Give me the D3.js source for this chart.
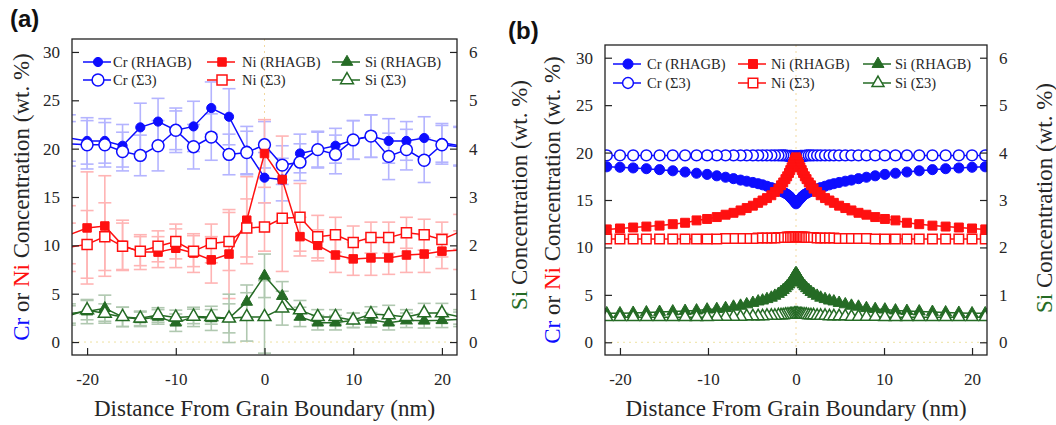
<!DOCTYPE html>
<html>
<head>
<meta charset="utf-8">
<script src="https://cdn.jsdelivr.net/npm/d3@7"></script>
<style>
  body { margin: 0; background: #fff; }
  svg { display: block; }
</style>
</head>
<body>
<svg id="chart" width="1056" height="425"></svg>
<script>
// ---------- Panel (a): measured profiles, points every 2 nm ----------
const distA = [-22, -20, -18, -16, -14, -12, -10, -8, -6, -4, -2, 0, 2, 4, 6, 8, 10, 12, 14, 16, 18, 20, 22];

const crRhagbA    = [21.1, 20.8, 20.8, 20.3, 22.2, 22.8, 21.9, 22.3, 24.2, 23.3, 19.8, 17.0, 16.8, 19.5, 19.9, 20.3, 20.9, 21.3, 20.8, 20.8, 21.1, 20.6, 20.3];
const crRhagbAErr = [2.4, 2.4, 2.3, 2.2, 2.5, 2.4, 2.3, 2.6, 2.7, 2.9, 2.5, 2.6, 2.2, 2.0, 1.8, 1.8, 2.0, 2.2, 2.3, 2.0, 2.2, 2.0, 2.0];
const crS3A       = [20.5, 20.4, 20.4, 19.7, 19.3, 20.3, 21.9, 20.2, 21.2, 19.4, 19.6, 20.4, 18.3, 18.6, 19.9, 19.4, 20.9, 21.3, 19.2, 19.9, 18.8, 20.4, 20.2];
const crS3AErr    = [2.3, 2.5, 2.3, 2.0, 2.1, 2.6, 2.0, 2.3, 2.4, 2.1, 2.2, 2.4, 2.0, 1.9, 1.9, 2.0, 2.0, 2.2, 2.4, 2.1, 2.3, 2.0, 2.0];

const niRhagbA    = [11.1, 11.8, 12.0, 10.0, 9.3, 9.3, 9.7, 9.2, 8.5, 9.1, 12.6, 19.5, 16.8, 10.9, 10.0, 9.0, 8.6, 8.7, 8.7, 9.0, 9.1, 9.4, 9.5];
const niRhagbAErr = [3.0, 5.8, 5.2, 2.6, 1.8, 1.6, 2.0, 2.0, 2.4, 4.6, 4.5, 3.5, 4.5, 2.0, 1.6, 1.8, 1.7, 1.8, 1.7, 1.8, 1.9, 1.8, 2.0];
const niS3A       = [9.8, 10.1, 10.9, 9.9, 9.4, 9.9, 10.4, 9.4, 10.2, 10.4, 11.8, 11.9, 12.8, 12.9, 10.9, 11.1, 10.3, 10.8, 10.8, 11.3, 11.1, 10.6, 11.4];
const niS3AErr    = [2.5, 3.5, 3.5, 2.4, 1.5, 1.6, 1.8, 1.6, 2.0, 3.0, 3.0, 2.5, 5.5, 3.5, 2.2, 1.8, 1.7, 1.6, 1.6, 1.6, 1.6, 1.8, 1.8];

const siRhagbA    = [0.59, 0.63, 0.70, 0.52, 0.47, 0.52, 0.40, 0.52, 0.49, 0.49, 0.83, 1.37, 0.95, 0.52, 0.40, 0.40, 0.45, 0.46, 0.40, 0.45, 0.44, 0.45, 0.47];
const siRhagbAErr = [0.20, 0.25, 0.27, 0.20, 0.15, 0.15, 0.18, 0.20, 0.25, 0.50, 0.35, 0.45, 0.30, 0.20, 0.15, 0.15, 0.15, 0.15, 0.15, 0.15, 0.15, 0.15, 0.15];
const siS3A       = [0.55, 0.66, 0.59, 0.52, 0.49, 0.56, 0.51, 0.53, 0.52, 0.49, 0.52, 0.52, 0.70, 0.66, 0.52, 0.52, 0.45, 0.58, 0.56, 0.52, 0.60, 0.60, 0.52];
const siS3AErr    = [0.20, 0.20, 0.20, 0.20, 0.15, 0.15, 0.15, 0.15, 0.15, 0.30, 0.50, 0.75, 0.35, 0.20, 0.15, 0.15, 0.15, 0.15, 0.20, 0.15, 0.20, 0.20, 0.15];

// ---------- Panel (b): simulated profiles, symmetric about the boundary ----------
// distance from the boundary (nm); each value is plotted on both sides
const distB = [0, 0.1, 0.2, 0.35, 0.5, 0.65, 0.8, 1.0, 1.2, 1.45, 1.7, 2.0, 2.4, 2.8, 3.3, 3.8, 4.3, 4.9, 5.6, 6.3, 7.1, 8.0, 9.0, 10.1, 11.3, 12.6, 14.0, 15.5, 17.0, 18.5, 20.0, 21.5];

const crRhagbB = [14.6, 14.75, 14.85, 15.0, 15.15, 15.3, 15.45, 15.6, 15.7, 15.82, 15.93, 16.05, 16.17, 16.3, 16.45, 16.6, 16.72, 16.85, 16.98, 17.1, 17.25, 17.4, 17.55, 17.7, 17.82, 17.95, 18.08, 18.2, 18.3, 18.38, 18.45, 18.5];
const crS3B    = [19.6, 19.6, 19.6, 19.6, 19.65, 19.65, 19.65, 19.65, 19.7, 19.7, 19.7, 19.7, 19.7, 19.7, 19.7, 19.7, 19.7, 19.7, 19.7, 19.7, 19.7, 19.7, 19.7, 19.7, 19.7, 19.7, 19.7, 19.7, 19.7, 19.7, 19.7, 19.7];
const niRhagbB = [19.5, 19.3, 19.05, 18.75, 18.45, 18.15, 17.85, 17.5, 17.2, 16.85, 16.55, 16.2, 15.85, 15.5, 15.2, 14.95, 14.7, 14.4, 14.15, 13.9, 13.65, 13.45, 13.2, 13.0, 12.85, 12.6, 12.45, 12.3, 12.2, 12.1, 12.0, 11.9];
const niS3B    = [11.15, 11.15, 11.15, 11.1, 11.1, 11.1, 11.1, 11.1, 11.05, 11.05, 11.05, 11.05, 11.0, 11.0, 11.0, 11.0, 11.0, 10.95, 10.95, 10.95, 10.95, 10.95, 10.9, 10.9, 10.9, 10.9, 10.9, 10.9, 10.9, 10.9, 10.9, 10.9];
const siRhagbB = [1.46, 1.43, 1.40, 1.35, 1.30, 1.26, 1.22, 1.18, 1.14, 1.10, 1.06, 1.02, 0.98, 0.94, 0.91, 0.88, 0.86, 0.83, 0.80, 0.77, 0.75, 0.72, 0.70, 0.69, 0.67, 0.66, 0.65, 0.64, 0.63, 0.62, 0.61, 0.61];
const siS3B    = [0.60, 0.60, 0.60, 0.59, 0.59, 0.59, 0.58, 0.58, 0.58, 0.57, 0.57, 0.57, 0.56, 0.56, 0.56, 0.55, 0.55, 0.55, 0.55, 0.54, 0.54, 0.54, 0.54, 0.53, 0.53, 0.53, 0.53, 0.53, 0.53, 0.53, 0.53, 0.53];

// ---------- Axes ----------
const xTicks = [-20, -10, 0, 10, 20];
const leftTicks = [0, 5, 10, 15, 20, 25, 30];
const rightTicks = [0, 1, 2, 3, 4, 5, 6];
const xDomain = [-21.7, 21.7];
const leftDomain = [-1.34, 31.34];
const siPerLeft = 5;   // right axis = left axis / 5

const COLOR = { Cr: "#0d0dff", Ni: "#ff1010", Si: "#256b25" };
const ERRCOLOR = { Cr: "#b4b4ff", Ni: "#ffb4b4", Si: "#b0c8b0" };
const TEXT = "#262626";
const SERIF = "'Liberation Serif', 'Times New Roman', serif";

const svg = d3.select("#chart");

const SYMBOLS = { circle: d3.symbolCircle, square: d3.symbolSquare, triangle: d3.symbolTriangle };
function markerPath(m) {
  return d3.symbol().type(SYMBOLS[m.shape]).size(m.size)();
}

function mirror(dist, vals) {
  const xs = [], ys = [];
  // drawn outward from the boundary on both sides
  dist.forEach((d, i) => {
    xs.push(-d); ys.push(vals[i]);
    if (d !== 0) { xs.push(d); ys.push(vals[i]); }
  });
  return { xs, ys };
}

function drawPanel(cfg, idx) {
  const g = svg.append("g");
  const x = d3.scaleLinear().domain(xDomain).range([cfg.left, cfg.right]);
  const yL = d3.scaleLinear().domain(leftDomain).range([cfg.bottom, cfg.top]);
  const yR = d3.scaleLinear().domain(leftDomain.map(v => v / siPerLeft)).range([cfg.bottom, cfg.top]);
  const yOf = s => (s.axis === "R" ? yR : yL);

  const clipId = "clip" + idx;
  g.append("clipPath").attr("id", clipId).append("rect")
    .attr("x", cfg.left).attr("y", cfg.top)
    .attr("width", cfg.right - cfg.left).attr("height", cfg.bottom - cfg.top);
  const plot = g.append("g").attr("clip-path", `url(#${clipId})`);

  // boundary and zero guides
  plot.append("line")
    .attr("x1", x(0)).attr("x2", x(0)).attr("y1", cfg.top).attr("y2", cfg.bottom)
    .attr("stroke", "#f2d9a0").attr("stroke-width", 1).attr("stroke-dasharray", "2,4");
  plot.append("line")
    .attr("x1", cfg.left).attr("x2", cfg.right).attr("y1", yL(0)).attr("y2", yL(0))
    .attr("stroke", "#eee2a0").attr("stroke-width", 1).attr("stroke-dasharray", "2,4");

  // error bars
  cfg.series.forEach(s => {
    if (!s.err) return;
    const y = yOf(s);
    const eg = plot.append("g").attr("stroke", ERRCOLOR[s.el]).attr("stroke-width", 1.6).attr("fill", "none");
    s.xs.forEach((xv, i) => {
      const cx = x(xv), lo = y(s.ys[i] - s.err[i]), hi = y(s.ys[i] + s.err[i]);
      eg.append("line").attr("x1", cx).attr("x2", cx).attr("y1", lo).attr("y2", hi);
      eg.append("line").attr("x1", cx - 6.5).attr("x2", cx + 6.5).attr("y1", lo).attr("y2", lo);
      eg.append("line").attr("x1", cx - 6.5).attr("x2", cx + 6.5).attr("y1", hi).attr("y2", hi);
    });
  });

  // lines and markers
  cfg.series.forEach(s => {
    const y = yOf(s);
    const order = d3.range(s.xs.length);
    const sorted = order.slice().sort((a, b) => s.xs[a] - s.xs[b]);
    const line = d3.line().x(i => x(s.xs[i])).y(i => y(s.ys[i]));
    plot.append("path").attr("d", line(sorted))
      .attr("fill", "none").attr("stroke", COLOR[s.el]).attr("stroke-width", 1.5);
    const p = markerPath(s.marker);
    plot.append("g").selectAll("path")
      .data(order.filter(i => s.xs[i] >= xDomain[0] && s.xs[i] <= xDomain[1]))
      .join("path")
      .attr("d", p)
      .attr("transform", i => `translate(${x(s.xs[i])},${y(s.ys[i])})`)
      .attr("fill", s.filled ? COLOR[s.el] : "#fff")
      .attr("stroke", COLOR[s.el]).attr("stroke-width", s.filled ? 1 : 1.5);
  });

  // axes
  const styleAxis = sel => {
    sel.select(".domain").remove();
    sel.attr("font-family", SERIF).attr("font-size", 17).attr("color", "#222");
    sel.selectAll(".tick line").attr("stroke-width", 1.2);
    sel.selectAll(".tick text").attr("fill", TEXT);
  };
  g.append("g").attr("transform", `translate(${cfg.left},0)`)
    .call(d3.axisLeft(yL).tickValues(leftTicks).tickSize(-7).tickPadding(12).tickFormat(d => String(d)))
    .call(styleAxis);
  g.append("g").attr("transform", `translate(${cfg.right},0)`)
    .call(d3.axisRight(yR).tickValues(rightTicks).tickSize(-7).tickPadding(12).tickFormat(d => String(d)))
    .call(styleAxis);
  g.append("g").attr("transform", `translate(0,${cfg.bottom})`)
    .call(d3.axisBottom(x).tickValues(xTicks).tickSize(-7).tickPadding(18).tickFormat(d => String(d)))
    .call(styleAxis);

  g.append("rect")
    .attr("x", cfg.left).attr("y", cfg.top)
    .attr("width", cfg.right - cfg.left).attr("height", cfg.bottom - cfg.top)
    .attr("fill", "none").attr("stroke", "#222").attr("stroke-width", 1.3);

  // legend
  cfg.legend.forEach(L => {
    const s = cfg.series[L.series];
    const lg = g.append("g");
    lg.append("line").attr("x1", L.mx - 15).attr("x2", L.mx + 13).attr("y1", L.y).attr("y2", L.y)
      .attr("stroke", COLOR[s.el]).attr("stroke-width", 1.5);
    lg.append("path").attr("d", markerPath(s.marker))
      .attr("transform", `translate(${L.mx},${L.y})`)
      .attr("fill", s.filled ? COLOR[s.el] : "#fff")
      .attr("stroke", COLOR[s.el]).attr("stroke-width", s.filled ? 1 : 1.5);
    lg.append("text").attr("x", L.tx).attr("y", L.y).attr("dy", "0.35em")
      .attr("font-family", SERIF).attr("font-size", 14.5).attr("fill", TEXT)
      .text(s.name);
  });

  // axis titles
  const midY = (cfg.top + cfg.bottom) / 2;
  g.append("text").attr("x", (cfg.left + cfg.right) / 2).attr("y", 416)
    .attr("text-anchor", "middle").attr("font-family", SERIF).attr("font-size", 23).attr("fill", TEXT)
    .text("Distance From Grain Boundary (nm)");

  const lt = g.append("text")
    .attr("transform", `translate(${cfg.leftTitleX},${midY}) rotate(-90)`)
    .attr("text-anchor", "middle").attr("dy", "0.35em")
    .attr("font-family", SERIF).attr("font-size", 23).attr("fill", TEXT);
  lt.append("tspan").attr("fill", COLOR.Cr).text("Cr");
  lt.append("tspan").text(" or ");
  lt.append("tspan").attr("fill", COLOR.Ni).text("Ni");
  lt.append("tspan").text(" Concentration (wt. %)");

  const rt = g.append("text")
    .attr("transform", `translate(${cfg.rightTitleX},${midY - 2}) rotate(-90)`)
    .attr("text-anchor", "middle").attr("dy", "0.35em")
    .attr("font-family", SERIF).attr("font-size", 23).attr("fill", TEXT);
  rt.append("tspan").attr("fill", COLOR.Si).text("Si");
  rt.append("tspan").text(" Concentration (wt. %)");

  // panel tag
  g.append("text").attr("x", cfg.tagX).attr("y", cfg.tagY)
    .attr("font-family", "'Liberation Sans', Arial, sans-serif").attr("font-weight", "bold")
    .attr("font-size", 24).attr("fill", "#111").text(cfg.tag);
}

// ---------- build panels ----------
const mA = {
  crF: { shape: "circle", size: 66 }, crO: { shape: "circle", size: 110 },
  niF: { shape: "square", size: 72 }, niO: { shape: "square", size: 100 },
  siF: { shape: "triangle", size: 58 }, siO: { shape: "triangle", size: 72 }
};
const mB = {
  crF: { shape: "circle", size: 80 }, crO: { shape: "circle", size: 92 },
  niF: { shape: "square", size: 80 }, niO: { shape: "square", size: 90 },
  siF: { shape: "triangle", size: 62 }, siO: { shape: "triangle", size: 62 }
};

const panelA = {
  tag: "(a)", tagX: 10, tagY: 27,
  left: 72, right: 457, top: 39, bottom: 355,
  leftTitleX: 21, rightTitleX: 519,
  series: [
    { name: "Cr (RHAGB)", el: "Cr", axis: "L", xs: distA, ys: crRhagbA, err: crRhagbAErr, marker: mA.crF, filled: true },
    { name: "Cr (Σ3)", el: "Cr", axis: "L", xs: distA, ys: crS3A, err: crS3AErr, marker: mA.crO, filled: false },
    { name: "Ni (RHAGB)", el: "Ni", axis: "L", xs: distA, ys: niRhagbA, err: niRhagbAErr, marker: mA.niF, filled: true },
    { name: "Ni (Σ3)", el: "Ni", axis: "L", xs: distA, ys: niS3A, err: niS3AErr, marker: mA.niO, filled: false },
    { name: "Si (RHAGB)", el: "Si", axis: "R", xs: distA, ys: siRhagbA, err: siRhagbAErr, marker: mA.siF, filled: true },
    { name: "Si (Σ3)", el: "Si", axis: "R", xs: distA, ys: siS3A, err: siS3AErr, marker: mA.siO, filled: false }
  ],
  legend: [
    { series: 0, mx: 98, tx: 113, y: 62 }, { series: 1, mx: 98, tx: 113, y: 80 },
    { series: 2, mx: 222, tx: 242, y: 62 }, { series: 3, mx: 222, tx: 242, y: 80 },
    { series: 4, mx: 347, tx: 365, y: 62 }, { series: 5, mx: 347, tx: 365, y: 80 }
  ]
};

const bCrR = mirror(distB, crRhagbB), bCrS = mirror(distB, crS3B);
const bNiR = mirror(distB, niRhagbB), bNiS = mirror(distB, niS3B);
const bSiR = mirror(distB, siRhagbB), bSiS = mirror(distB, siS3B);

const panelB = {
  tag: "(b)", tagX: 508, tagY: 39,
  left: 605, right: 987, top: 45, bottom: 355,
  leftTitleX: 552, rightTitleX: 1044,
  series: [
    { name: "Cr (RHAGB)", el: "Cr", axis: "L", xs: bCrR.xs, ys: bCrR.ys, marker: mB.crF, filled: true },
    { name: "Cr (Σ3)", el: "Cr", axis: "L", xs: bCrS.xs, ys: bCrS.ys, marker: mB.crO, filled: false },
    { name: "Ni (RHAGB)", el: "Ni", axis: "L", xs: bNiR.xs, ys: bNiR.ys, marker: mB.niF, filled: true },
    { name: "Ni (Σ3)", el: "Ni", axis: "L", xs: bNiS.xs, ys: bNiS.ys, marker: mB.niO, filled: false },
    { name: "Si (RHAGB)", el: "Si", axis: "R", xs: bSiR.xs, ys: bSiR.ys, marker: mB.siF, filled: true },
    { name: "Si (Σ3)", el: "Si", axis: "R", xs: bSiS.xs, ys: bSiS.ys, marker: mB.siO, filled: false }
  ],
  legend: [
    { series: 0, mx: 628, tx: 647, y: 64 }, { series: 1, mx: 628, tx: 647, y: 83 },
    { series: 2, mx: 753, tx: 771, y: 64 }, { series: 3, mx: 753, tx: 771, y: 83 },
    { series: 4, mx: 878, tx: 895, y: 64 }, { series: 5, mx: 878, tx: 895, y: 83 }
  ]
};

drawPanel(panelA, 0);
drawPanel(panelB, 1);
</script>
</body>
</html>
